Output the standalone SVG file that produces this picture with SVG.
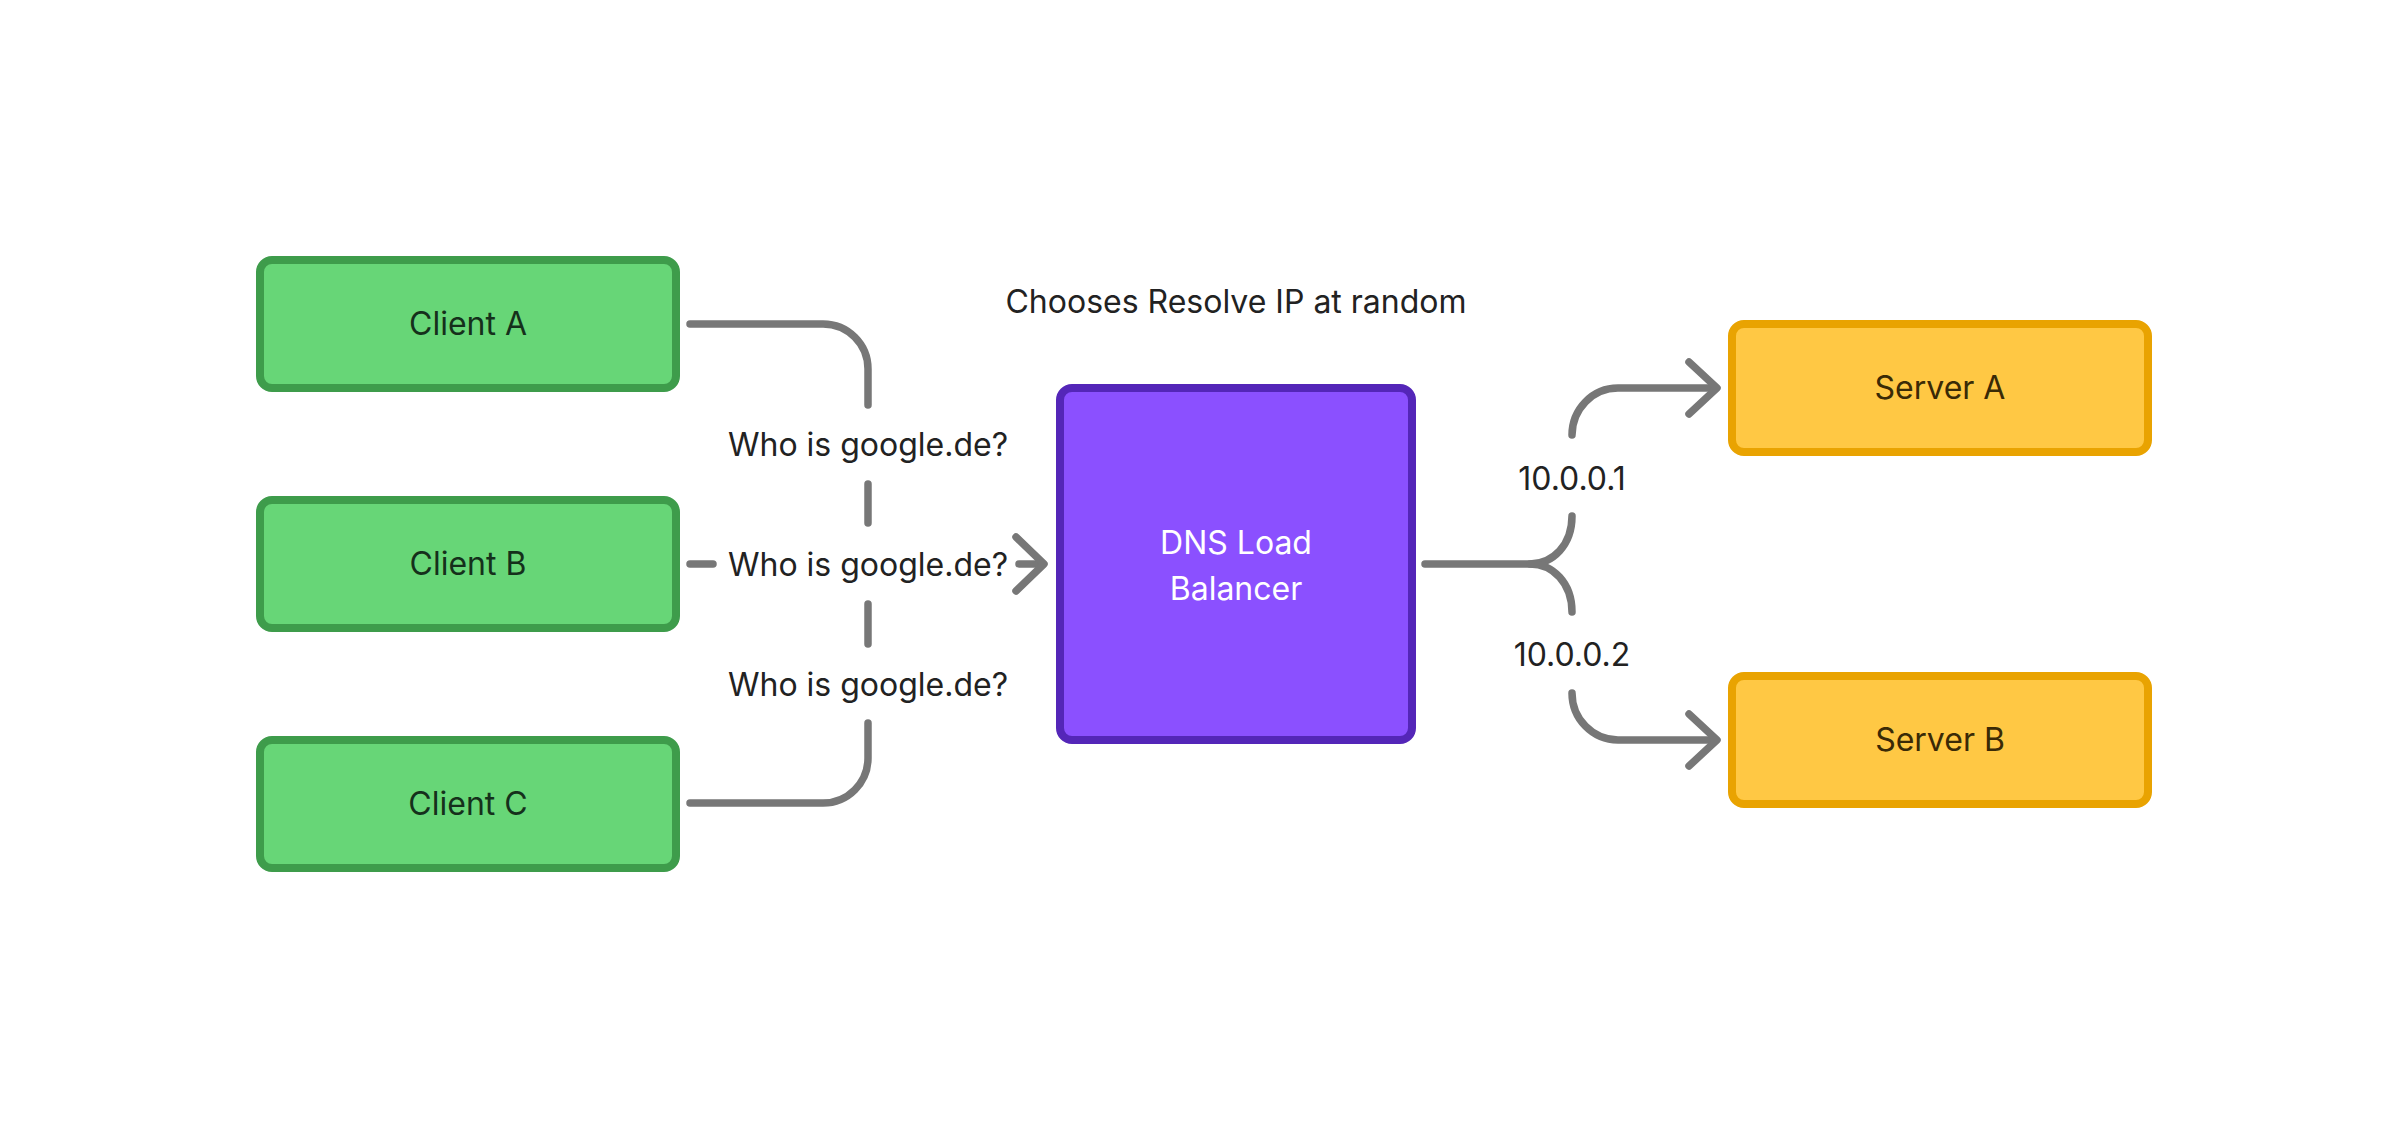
<svg xmlns="http://www.w3.org/2000/svg" width="2408" height="1128" viewBox="0 0 2408 1128">
<style>
  .client{fill:#67d677;stroke:#3e9c4b;stroke-width:8}
  .server{fill:#ffc844;stroke:#e9a301;stroke-width:8}
  .dns{fill:#8b50ff;stroke:#5426b8;stroke-width:8}
  text{font-family:Inter,"Liberation Sans",sans-serif;font-size:32px;text-anchor:middle}
  .ct{fill:#15301b}
  .st{fill:#3a2a06}
  .dt{fill:#ffffff}
  .lbl{fill:#222222}
  .conn{fill:none;stroke:#777777;stroke-width:7.5;stroke-linecap:round;stroke-linejoin:round}
</style>
<rect width="2408" height="1128" fill="#ffffff"/>
<g id="connectors">
  <path class="conn" d="M690 324 H823 A45 45 0 0 1 868 369 V405"/>
  <path class="conn" d="M868 484 V523"/>
  <path class="conn" d="M868 604 V644"/>
  <path class="conn" d="M868 723 V758 A45 45 0 0 1 823 803 H690"/>
  <path class="conn" d="M690 564 H713"/>
  <path class="conn" d="M1019 564 H1043"/>
  <polyline class="conn" points="1016,537 1044,564 1016,591"/>
  <path class="conn" d="M1425 564 H1530 C1553 564 1572 545 1572 516"/>
  <path class="conn" d="M1530 564 C1553 564 1572 583 1572 612"/>
  <path class="conn" d="M1572 435 A46 47 0 0 1 1618 388 H1716"/>
  <polyline class="conn" points="1689,362 1717,388 1689,414"/>
  <path class="conn" d="M1572 693 A46 47 0 0 0 1618 740 H1716"/>
  <polyline class="conn" points="1689,714 1717,740 1689,766"/>
  <text class="lbl" x="868" y="456">Who is google.de?</text>
  <text class="lbl" x="868" y="576">Who is google.de?</text>
  <text class="lbl" x="868" y="696">Who is google.de?</text>
  <text class="lbl" x="1572" y="490">10.0.0.1</text>
  <text class="lbl" x="1572" y="666">10.0.0.2</text>
</g>
<g id="client-a">
  <rect class="client" x="260" y="260" width="416" height="128" rx="12"/>
  <text class="ct" x="468" y="335">Client A</text>
</g>
<g id="client-b">
  <rect class="client" x="260" y="500" width="416" height="128" rx="12"/>
  <text class="ct" x="468" y="575">Client B</text>
</g>
<g id="client-c">
  <rect class="client" x="260" y="740" width="416" height="128" rx="12"/>
  <text class="ct" x="468" y="815">Client C</text>
</g>
<g id="dns-load-balancer">
  <rect class="dns" x="1060" y="388" width="352" height="352" rx="12"/>
  <text class="dt" x="1236" y="554">DNS Load</text>
  <text class="dt" x="1236" y="600">Balancer</text>
</g>
<g id="server-a">
  <rect class="server" x="1732" y="324" width="416" height="128" rx="12"/>
  <text class="st" x="1940" y="399">Server A</text>
</g>
<g id="server-b">
  <rect class="server" x="1732" y="676" width="416" height="128" rx="12"/>
  <text class="st" x="1940" y="751">Server B</text>
</g>
<g id="note">
  <text class="lbl" x="1236" y="313" fill="#1e1e1e">Chooses Resolve IP at random</text>
</g>
</svg>
